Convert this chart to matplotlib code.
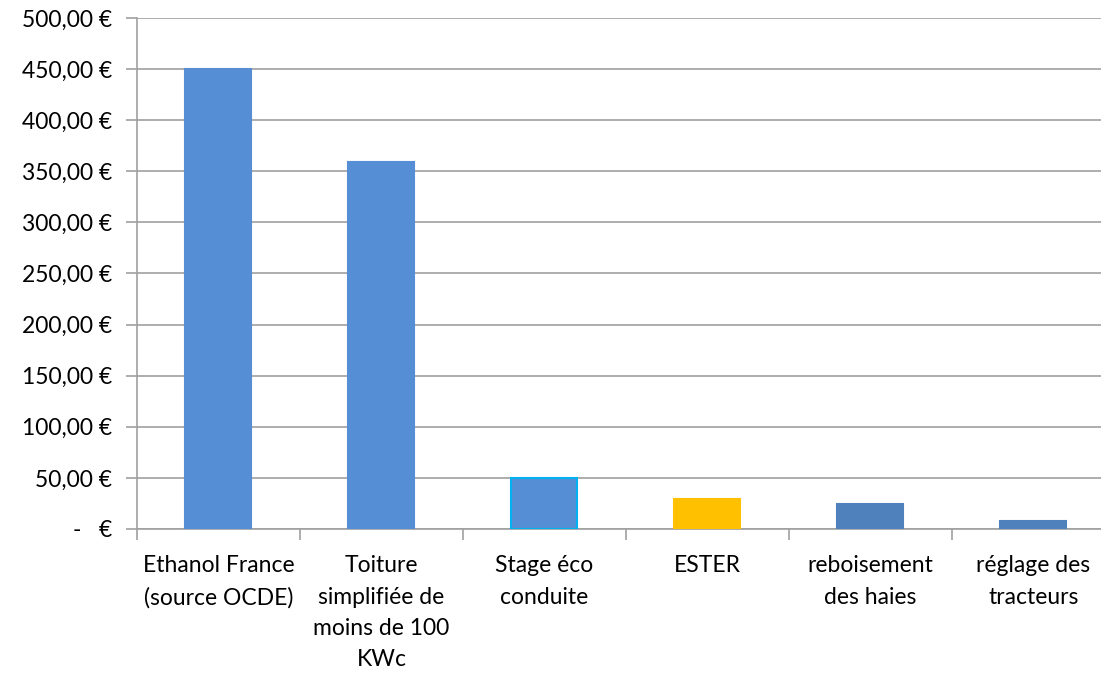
import matplotlib
matplotlib.use('Agg')
import matplotlib.pyplot as plt
from matplotlib.ticker import FuncFormatter, MultipleLocator

categories = ['Ethanol France\n(source OCDE)', 'Toiture\nsimplifiée de\nmoins de 100\nKWc',
              'Stage éco\nconduite', 'ESTER', 'reboisement\ndes haies', 'réglage des\ntracteurs']
values = [450, 359, 50, 29, 24.5, 8]
colors = ['#558ED5', '#558ED5', '#558ED5', '#FFC000', '#4F81BD', '#4F81BD']
edges = ['#558ED5', '#558ED5', '#00B0F0', '#FFC000', '#4F81BD', '#4F81BD']

plt.rcParams['font.family'] = ['Lato', 'DejaVu Sans']

fig = plt.figure(figsize=(11.01, 6.73), dpi=100)
# the plot area runs a little past the right edge of the image, as in the original
ax = fig.add_axes([0.1244, 0.214, 0.8883, 0.7593])

x = range(len(categories))
ax.bar(x, values, width=0.405, color=colors, edgecolor=edges, linewidth=1.5, zorder=3)

ax.set_xlim(-0.5, len(categories) - 0.5)
ax.set_ylim(0, 500)
ax.yaxis.set_major_locator(MultipleLocator(50))

def euro(v, pos):
    if v == 0:
        return '-   €'
    return f'{v:,.2f} €'.replace(',', ' ').replace('.', ',')

ax.yaxis.set_major_formatter(FuncFormatter(euro))
ax.grid(axis='y', color='#A0A0A0', linewidth=1.2, zorder=0)

# category labels, tick marks between categories
ax.set_xticks(list(x))
ax.set_xticklabels(categories, fontsize=16.5, linespacing=1.6, va='top')
ax.tick_params(axis='x', length=0, pad=19)
ax.set_xticks([i - 0.5 for i in range(len(categories) + 1)], minor=True)
ax.tick_params(axis='x', which='minor', length=8, color='#A0A0A0', width=1.2)
ax.tick_params(axis='y', length=8, color='#A0A0A0', width=1.2, labelsize=16.5, pad=10)

for s in ['top', 'right']:
    ax.spines[s].set_visible(False)
for s in ['left', 'bottom']:
    ax.spines[s].set_color('#A0A0A0')
    ax.spines[s].set_linewidth(1.2)

fig.savefig('out.png', dpi=100)
